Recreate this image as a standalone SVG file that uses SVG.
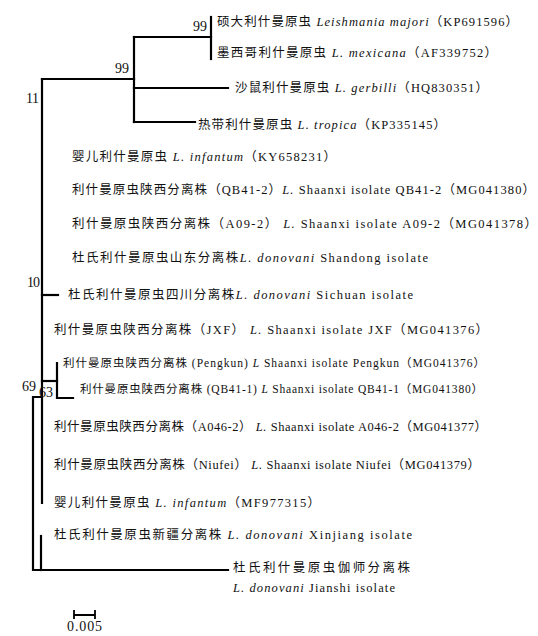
<svg xmlns="http://www.w3.org/2000/svg" width="538" height="636" viewBox="0 0 538 636">
<style>
.e{fill:none;stroke:#000;stroke-width:2.2;stroke-linecap:square}
.t{font-family:"Liberation Serif","Noto Sans CJK SC",serif;font-size:12.5px;fill:#111}
.s{font-size:11.5px}
.i{font-style:italic}
.b{font-family:"Liberation Serif",serif;font-size:14px;fill:#111}
</style>
<rect width="538" height="636" fill="#fff"/>
<g id="connectors">
<path class="e" d="M42,397 H33 V570 H228"/>
<path class="e" d="M41,536 V570"/>
<path class="e" d="M42,79 V503"/>
<path class="e" d="M42,79 H134"/>
<path class="e" d="M134,37 V122"/>
<path class="e" d="M134,37 H211"/>
<path class="e" d="M211,17 V59"/>
<path class="e" d="M134,88 H228"/>
<path class="e" d="M134,122 H195"/>
<path class="e" d="M42,295 H58"/>
<path class="e" d="M42,381 H57"/>
<path class="e" d="M57,363 V398 H73"/>
</g>
<g id="bootstrap">
<text class="b" x="193" y="31" textLength="14">99</text>
<text class="b" x="115" y="73" textLength="14">99</text>
<text class="b" x="26" y="103" textLength="13">11</text>
<text class="b" x="27" y="287" textLength="13">10</text>
<text class="b" x="22" y="391" textLength="14">69</text>
<text class="b" x="39" y="397" textLength="14">63</text>
</g>
<g id="n1"><text class="t" x="217" y="26" textLength="301" lengthAdjust="spacing">硕大利什曼原虫 <tspan class="i">Leishmania majori</tspan>（KP691596）</text></g>
<g id="n2"><text class="t" x="217" y="57" textLength="280" lengthAdjust="spacing">墨西哥利什曼原虫 <tspan class="i">L. mexicana</tspan>（AF339752）</text></g>
<g id="n3"><text class="t" x="235" y="92" textLength="253" lengthAdjust="spacing">沙鼠利什曼原虫 <tspan class="i">L. gerbilli</tspan>（HQ830351）</text></g>
<g id="n4"><text class="t" x="198" y="129" textLength="248" lengthAdjust="spacing">热带利什曼原虫 <tspan class="i">L. tropica</tspan>（KP335145）</text></g>
<g id="n5"><text class="t" x="72" y="161" textLength="264" lengthAdjust="spacing">婴儿利什曼原虫 <tspan class="i">L. infantum</tspan>（KY658231）</text></g>
<g id="n6"><text class="t" x="72" y="194" textLength="463" lengthAdjust="spacing">利什曼原虫陕西分离株（QB41-2）<tspan class="i">L.</tspan> Shaanxi isolate QB41-2（MG041380）</text></g>
<g id="n7"><text class="t" x="72" y="228" textLength="465" lengthAdjust="spacing">利什曼原虫陕西分离株（A09-2） <tspan class="i">L.</tspan> Shaanxi isolate A09-2（MG041378）</text></g>
<g id="n8"><text class="t" x="72" y="262" textLength="356" lengthAdjust="spacing">杜氏利什曼原虫山东分离株<tspan class="i">L. donovani</tspan> Shandong isolate</text></g>
<g id="n9"><text class="t" x="68" y="299" textLength="345" lengthAdjust="spacing">杜氏利什曼原虫四川分离株<tspan class="i">L. donovani</tspan> Sichuan isolate</text></g>
<g id="n10"><text class="t" x="54" y="334" textLength="434" lengthAdjust="spacing">利什曼原虫陕西分离株（JXF） <tspan class="i">L.</tspan> Shaanxi isolate JXF（MG041376）</text></g>
<g id="n11"><text class="t s" x="63" y="367" textLength="422" lengthAdjust="spacing">利什曼原虫陕西分离株 (Pengkun) <tspan class="i">L</tspan> Shaanxi isolate Pengkun（MG041376）</text></g>
<g id="n12"><text class="t s" x="80" y="393" textLength="403" lengthAdjust="spacing">利什曼原虫陕西分离株 (QB41-1) <tspan class="i">L</tspan> Shaanxi isolate QB41-1（MG041380）</text></g>
<g id="n13"><text class="t" x="54" y="431" textLength="433" lengthAdjust="spacing">利什曼原虫陕西分离株（A046-2） <tspan class="i">L.</tspan> Shaanxi isolate A046-2（MG041377）</text></g>
<g id="n14"><text class="t" x="54" y="469" textLength="426" lengthAdjust="spacing">利什曼原虫陕西分离株（Niufei） <tspan class="i">L.</tspan> Shaanxi isolate Niufei（MG041379）</text></g>
<g id="n15"><text class="t" x="54" y="507" textLength="266" lengthAdjust="spacing">婴儿利什曼原虫 <tspan class="i">L. infantum</tspan>（MF977315）</text></g>
<g id="n16"><text class="t" x="54" y="539" textLength="358" lengthAdjust="spacing">杜氏利什曼原虫新疆分离株 <tspan class="i">L. donovani</tspan> Xinjiang isolate</text></g>
<g id="n17">
<text class="t" x="233" y="572" textLength="177" lengthAdjust="spacing">杜氏利什曼原虫伽师分离株</text>
<text class="t" x="233" y="592" textLength="162" lengthAdjust="spacing"><tspan class="i">L. donovani</tspan> Jianshi isolate</text>
</g>
<g id="scale">
<path class="e" d="M74,615 H95 M74,610 V619 M95,610 V619" style="stroke-width:1.8;stroke-linecap:butt"/>
<text class="b" x="67" y="631" textLength="35" lengthAdjust="spacing">0.005</text>
</g>
</svg>
